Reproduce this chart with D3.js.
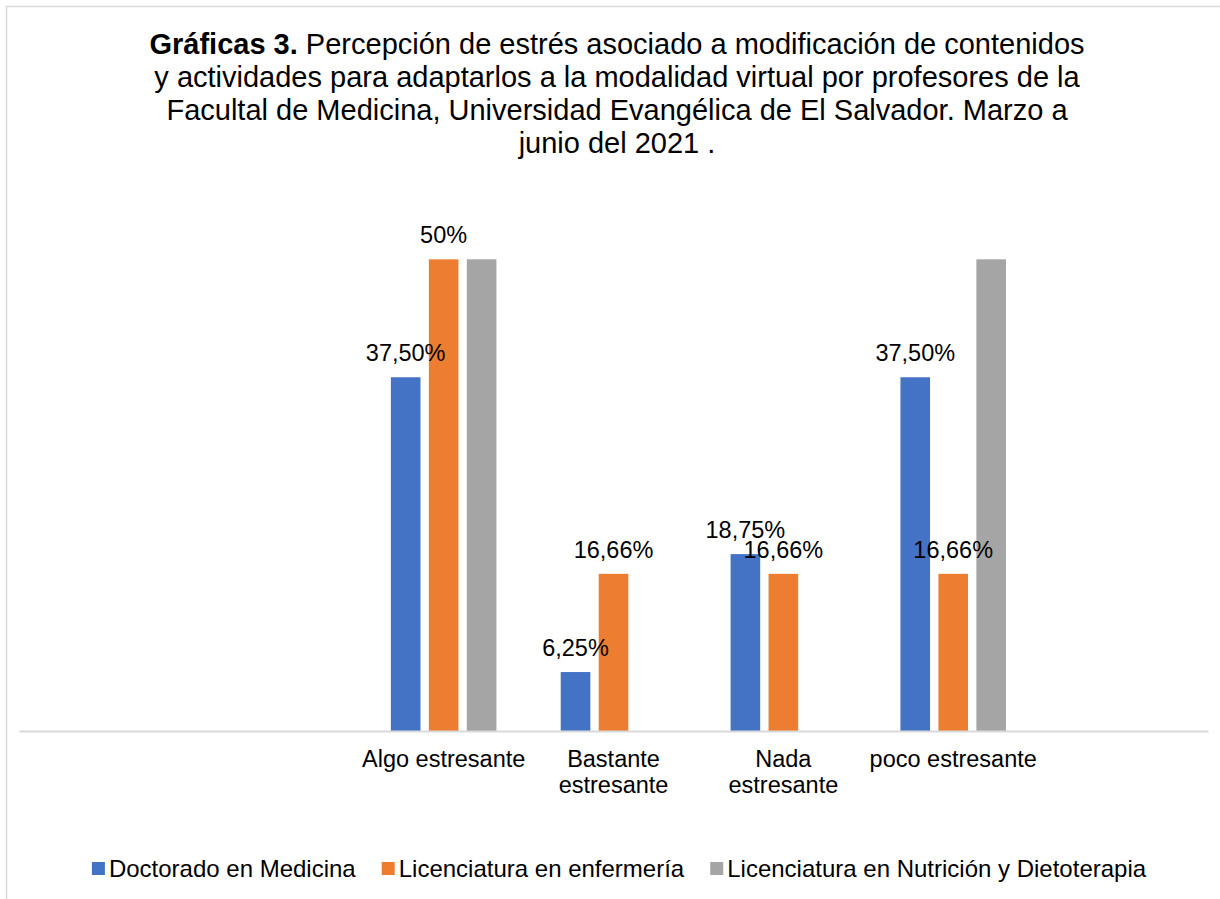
<!DOCTYPE html>
<html>
<head>
<meta charset="utf-8">
<title>Gráficas 3</title>
<script src="https://d3js.org/d3.v7.min.js"></script>
<style>
  body { margin: 0; background: #fff; }
  svg text { font-family: "Liberation Sans", Arial, sans-serif; fill: #000; }
</style>
</head>
<body>
<svg id="chart" width="1220" height="899"></svg>
<script>
// data
const categories = ["Algo estresante", "Bastante estresante", "Nada estresante", "poco estresante"];
const series = ["Doctorado en Medicina", "Licenciatura en enfermería", "Licenciatura en Nutrición y Dietoterapia"];
const medicina = [37.5, 6.25, 18.75, 37.5];
const enfermeria = [50, 16.66, 16.66, 16.66];
const nutricion = [50, null, null, 50];
const medicinaLabels = ["37,50%", "6,25%", "18,75%", "37,50%"];
const enfermeriaLabels = ["50%", "16,66%", "16,66%", "16,66%"];
const nutricionLabels = [null, null, null, null];
// the category axis has empty slots: two before and one after
const slots = ["", " ", ...categories, "  "];
const colors = ["#4472C4", "#ED7D31", "#A5A5A5"];
const titleLines = [
  [["Gráficas 3.", true], [" Percepción de estrés asociado a modificación de contenidos", false]],
  [["y actividades para adaptarlos a la modalidad virtual por profesores de la", false]],
  [["Facultal de Medicina, Universidad Evangélica de El Salvador. Marzo a", false]],
  [["junio del 2021 .", false]]
];

const values = [medicina, enfermeria, nutricion];
const labels = [medicinaLabels, enfermeriaLabels, nutricionLabels];
const rows = [];
categories.forEach((c, i) => {
  series.forEach((s, j) => {
    rows.push({cat: c, ser: s, v: values[j][i], lab: labels[j][i], color: colors[j]});
  });
});

const svg = d3.select("#chart");
const fs = 23.5;

// chart frame
svg.append("rect").attr("x", 6.5).attr("y", 6.5).attr("width", 1240).attr("height", 920)
  .attr("fill", "none").attr("stroke", "#D9D9D9").attr("stroke-width", 1.5);

// title
const title = svg.append("text").attr("text-anchor", "middle").style("font-size", "29px");
titleLines.forEach((line, i) => {
  const t = title.append("tspan").attr("x", 617).attr("y", 54 + i * 33);
  line.forEach(p => {
    t.append("tspan").text(p[0]).style("font-weight", p[1] ? "bold" : "normal");
  });
});

const x0 = d3.scaleBand().domain(slots).range([19, 1208]);
const x1 = d3.scaleBand().domain(series).range([0, x0.bandwidth()]).paddingInner(0.22).paddingOuter(0.847);
const y = d3.scaleLinear().domain([0, 60]).range([731, 165]);

// bars
const g = svg.append("g");
g.selectAll("rect").data(rows.filter(d => d.v != null)).enter().append("rect")
  .attr("x", d => x0(d.cat) + x1(d.ser))
  .attr("y", d => y(d.v))
  .attr("width", x1.bandwidth())
  .attr("height", d => y(0) - y(d.v))
  .attr("fill", d => d.color);

// data labels
g.selectAll("text.lab").data(rows.filter(d => d.lab)).enter().append("text")
  .attr("class", "lab")
  .attr("x", d => x0(d.cat) + x1(d.ser) + x1.bandwidth() / 2)
  .attr("y", d => y(d.v) - 16)
  .attr("text-anchor", "middle")
  .style("font-size", fs + "px")
  .text(d => d.lab);

// category axis
const axis = svg.append("g").attr("transform", "translate(0," + y(0) + ")")
  .call(d3.axisBottom(x0).tickSize(0).tickSizeOuter(0).tickFormat(""));
axis.select(".domain").attr("stroke", "#D9D9D9").attr("stroke-width", 2);

axis.selectAll(".tick").each(function(d) {
  if (!d.trim()) return;
  const t = d3.select(this).append("text")
    .attr("text-anchor", "middle").style("font-size", fs + "px");
  // wrap to the band width
  const words = d.split(" ");
  let lines = [], cur = "";
  words.forEach(w => {
    const test = cur ? cur + " " + w : w;
    const probe = t.text(test);
    if (cur && probe.node().getComputedTextLength() > x0.bandwidth()) {
      lines.push(cur); cur = w;
    } else cur = test;
  });
  lines.push(cur);
  t.text(null);
  lines.forEach((l, i) => t.append("tspan").attr("x", 0).attr("y", 36 + i * 26).text(l));
});

// legend
const legend = svg.append("g");
let lx = 0;
series.forEach((s, j) => {
  const item = legend.append("g").attr("transform", "translate(" + lx + ",0)");
  item.append("rect").attr("x", 0).attr("y", -15).attr("width", 13).attr("height", 13).attr("fill", colors[j]);
  const t = item.append("text").attr("x", 17).attr("y", 0).style("font-size", "24px").text(s);
  lx += 17 + t.node().getComputedTextLength() + 26;
});
lx -= 26;
legend.attr("transform", "translate(" + (619 - lx / 2) + ",877)");
</script>
</body>
</html>
